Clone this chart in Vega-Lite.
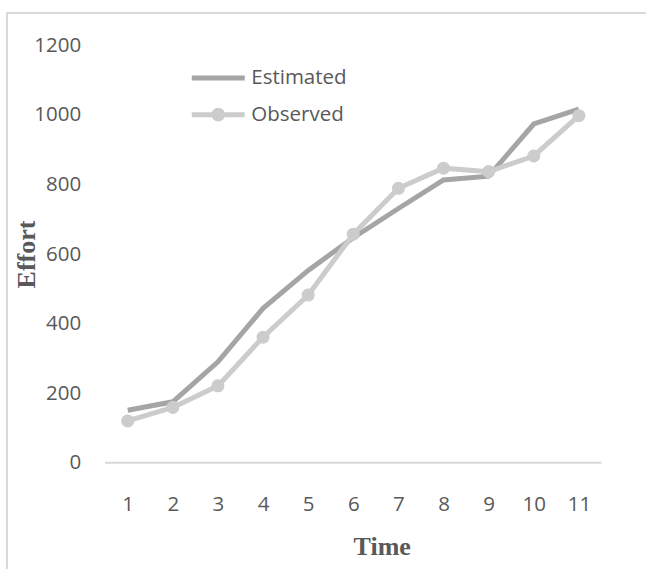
{
  "$schema": "https://vega.github.io/schema/vega-lite/v6.json",
  "width": 660,
  "height": 570,
  "autosize": "none",
  "padding": {"left": 7, "top": 13, "right": -21, "bottom": -14},
  "background": "white",
  "config": {"view": {"stroke": "#D9D9D9", "strokeWidth": 2}, "font": "Open Sans"},
  "data": {
    "values": [
      {"time": 1, "series": "Estimated", "effort": 151},
      {"time": 2, "series": "Estimated", "effort": 175},
      {"time": 3, "series": "Estimated", "effort": 290},
      {"time": 4, "series": "Estimated", "effort": 444},
      {"time": 5, "series": "Estimated", "effort": 553},
      {"time": 6, "series": "Estimated", "effort": 647},
      {"time": 7, "series": "Estimated", "effort": 731},
      {"time": 8, "series": "Estimated", "effort": 813},
      {"time": 9, "series": "Estimated", "effort": 824},
      {"time": 10, "series": "Estimated", "effort": 974},
      {"time": 11, "series": "Estimated", "effort": 1017},
      {"time": 1, "series": "Observed", "effort": 120},
      {"time": 2, "series": "Observed", "effort": 159},
      {"time": 3, "series": "Observed", "effort": 221},
      {"time": 4, "series": "Observed", "effort": 361},
      {"time": 5, "series": "Observed", "effort": 482},
      {"time": 6, "series": "Observed", "effort": 657},
      {"time": 7, "series": "Observed", "effort": 789},
      {"time": 8, "series": "Observed", "effort": 847},
      {"time": 9, "series": "Observed", "effort": 837},
      {"time": 10, "series": "Observed", "effort": 882},
      {"time": 11, "series": "Observed", "effort": 998}
    ]
  },
  "layer": [
    {
      "data": {"values": [{"a": 0.5, "b": 11.5, "y": 0}]},
      "mark": {"type": "rule", "color": "#D9D9D9", "strokeWidth": 2},
      "encoding": {
        "x": {"field": "a", "type": "quantitative", "title": "Time"},
        "x2": {"field": "b"},
        "y": {"field": "y", "type": "quantitative", "title": "Effort"}
      }
    },
    {
      "mark": {"type": "line", "strokeWidth": 5},
      "encoding": {
        "x": {
          "field": "time",
          "type": "quantitative",
          "title": "Time",
          "scale": {"domain": [-1.675, 12.953], "nice": false, "zero": false},
          "axis": {
            "values": [1, 2, 3, 4, 5, 6, 7, 8, 9, 10, 11],
            "format": "d",
            "offset": -120.6,
            "labelPadding": 32,
            "ticks": false,
            "domain": false,
            "grid": false,
            "labelFlush": false,
            "labelFont": "Open Sans",
            "labelFontSize": 20.5,
            "labelColor": "#595959",
            "titleFont": "Liberation Serif",
            "titleFontSize": 26,
            "titleFontWeight": "bold",
            "titleColor": "#595959",
            "titleX": 374.7,
            "titleY": 92.3,
            "titleAlign": "center",
            "titleBaseline": "alphabetic"
          }
        },
        "y": {
          "field": "effort",
          "type": "quantitative",
          "title": "Effort",
          "scale": {"domain": [-346, 1293.2], "nice": false, "zero": false},
          "axis": {
            "values": [0, 200, 400, 600, 800, 1000, 1200],
            "format": "d",
            "offset": -73.7,
            "labelPadding": 0,
            "ticks": false,
            "domain": false,
            "grid": false,
            "labelFlush": false,
            "labelFont": "Open Sans",
            "labelFontSize": 20.5,
            "labelColor": "#595959",
            "titleFont": "Liberation Serif",
            "titleFontSize": 26,
            "titleFontWeight": "bold",
            "titleColor": "#595959",
            "titleX": -54,
            "titleY": 241,
            "titleAngle": 270,
            "titleAlign": "center",
            "titleBaseline": "middle"
          }
        },
        "color": {
          "field": "series",
          "type": "nominal",
          "scale": {"domain": ["Estimated", "Observed"], "range": ["#A5A5A5", "#CCCCCC"]},
          "legend": {
            "orient": "none",
            "legendX": 195.25,
            "legendY": 48.9,
            "title": null,
            "padding": 0,
            "symbolType": "M-2,0H2",
            "symbolSize": 702,
            "symbolStrokeWidth": 5,
            "labelFont": "Open Sans",
            "labelFontSize": 20.5,
            "labelColor": "#595959",
            "labelOffset": 17,
            "rowPadding": 9.8,
            "encode": {
              "symbols": {
                "update": {
                  "shape": {"signal": "datum.value === 'Observed' ? 'M-2,0H2M-0.33,0A0.33,0.33 0 1,0 0.33,0A0.33,0.33 0 1,0 -0.33,0' : 'M-2,0H2'"},
                  "fill": {"value": "#CCCCCC"}
                }
              }
            }
          }
        }
      }
    },
    {
      "transform": [{"filter": "datum.series === 'Observed'"}],
      "mark": {"type": "point", "filled": true, "size": 170, "opacity": 1, "color": "#CCCCCC"},
      "encoding": {
        "x": {"field": "time", "type": "quantitative", "title": "Time"},
        "y": {"field": "effort", "type": "quantitative", "title": "Effort"}
      }
    }
  ]
}
